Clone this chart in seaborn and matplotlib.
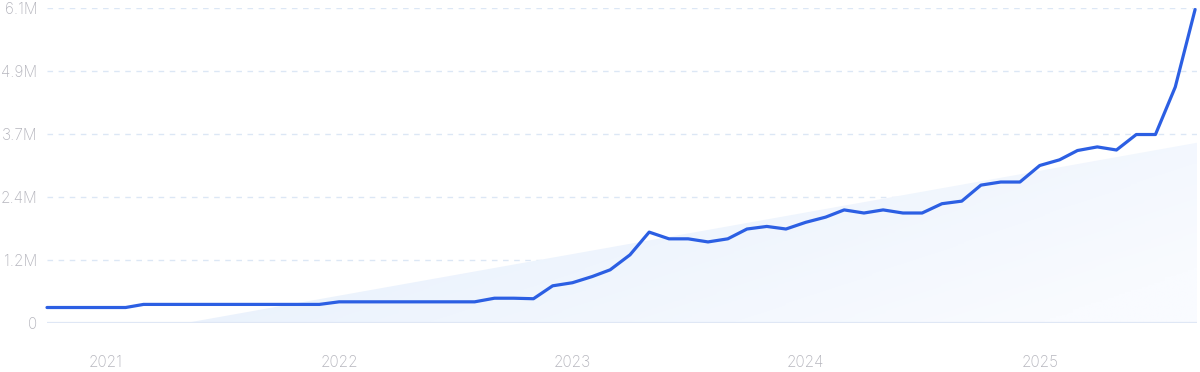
import numpy as np
import pandas as pd
import matplotlib
matplotlib.use("Agg")
import matplotlib.pyplot as plt
import matplotlib.dates as mdates
from matplotlib.colors import LinearSegmentedColormap
import seaborn as sns

# ---- data (monthly, Oct 2020 .. Sep 2025), values in millions ----
start_month = "2020-10-01"
values_m = [
    0.30, 0.30, 0.30, 0.30, 0.30,             # Oct 20 - Feb 21
    0.36, 0.36, 0.36, 0.36, 0.36, 0.36, 0.36,  # Mar 21 - Sep 21
    0.36, 0.36, 0.36,                          # Oct 21 - Dec 21
    0.41, 0.41, 0.41, 0.41, 0.41, 0.41, 0.41, 0.41,  # Jan 22 - Aug 22
    0.48, 0.48, 0.47, 0.72,                    # Sep 22 - Dec 22
    0.78, 0.90, 1.03, 1.32, 1.76, 1.63, 1.63, 1.57, 1.63, 1.82, 1.87, 1.82,  # 2023
    1.95, 2.05, 2.19, 2.13, 2.19, 2.13, 2.13, 2.31, 2.36, 2.67, 2.73, 2.73,  # 2024
    3.05, 3.16, 3.34, 3.41, 3.35, 3.65, 3.65, 4.57, 6.07,                    # 2025
]
trend_dates = ["2021-05-06", "2025-09-04"]
trend_vals_m = [0.0, 3.49]
ytick_vals_m = [0, 1.22, 2.44, 3.66, 4.88, 6.10]
ytick_labels = ["0", "1.2M", "2.4M", "3.7M", "4.9M", "6.1M"]
xtick_years = ["2021", "2022", "2023", "2024", "2025"]

dates = pd.date_range(start_month, periods=len(values_m), freq="MS")
df = pd.DataFrame({"date": dates, "value": np.array(values_m) * 1e6})
tdates = pd.to_datetime(trend_dates)
tvals = np.array(trend_vals_m) * 1e6

sns.set_theme(style="white")
plt.rcParams["font.family"] = ["Inter", "DejaVu Sans"]

fig = plt.figure(figsize=(12, 3.72), dpi=100)
ax = fig.add_axes([47 / 1200, 49 / 372, 1150 / 1200, 315 / 372])

xmin = dates[0]
xmax = dates[-1] + pd.Timedelta(days=3)
ax.set_xlim(xmin, xmax)
ax.set_ylim(0, 6.1e6)

# trend area with gradient
poly = ax.fill_between(tdates, 0, tvals, color="none", lw=0, zorder=1)
cmap = LinearSegmentedColormap.from_list("g", ["#e0ecfb", "#f9fbff"])
nx, ny = 200, 100
gx = np.linspace(0, 1, nx)[None, :]
gy = np.linspace(0, 1, ny)[:, None]
grad = 0.75 * gx + 0.35 * gy
x0n, x1n = mdates.date2num(xmin), mdates.date2num(xmax)
im = ax.imshow(grad, cmap=cmap, aspect="auto", origin="upper",
               extent=[x0n, x1n, 0, 3.6e6], zorder=1, vmin=0, vmax=1)
path = poly.get_paths()[0]
im.set_clip_path(path, transform=ax.transData)

# grid
for v in ytick_vals_m[1:]:
    ax.axhline(v * 1e6, color="#dce7f5", lw=1.0, ls=(0, (4, 4)), zorder=0)
ax.axhline(0, color="#dfe7f5", lw=1.6, zorder=2)

sns.lineplot(data=df, x="date", y="value", ax=ax, color="#2c5fe3",
             lw=2.3, zorder=3, clip_on=False)

ax.set_yticks(np.array(ytick_vals_m) * 1e6)
ax.set_yticklabels(ytick_labels)
ax.set_xticks(pd.to_datetime([f"{y}-01-01" for y in xtick_years]))
ax.set_xticklabels(xtick_years)
ax.tick_params(axis="y", length=0, pad=7, labelsize=11, labelcolor="#b5b5bd")
ax.tick_params(axis="x", length=0, pad=23, labelsize=11, labelcolor="#b5b5bd")
for lbl in ax.get_xticklabels() + ax.get_yticklabels():
    lbl.set_fontweight("light")
ax.set_xlabel("")
ax.set_ylabel("")
for s in ax.spines.values():
    s.set_visible(False)

fig.savefig("out.png", dpi=100)
